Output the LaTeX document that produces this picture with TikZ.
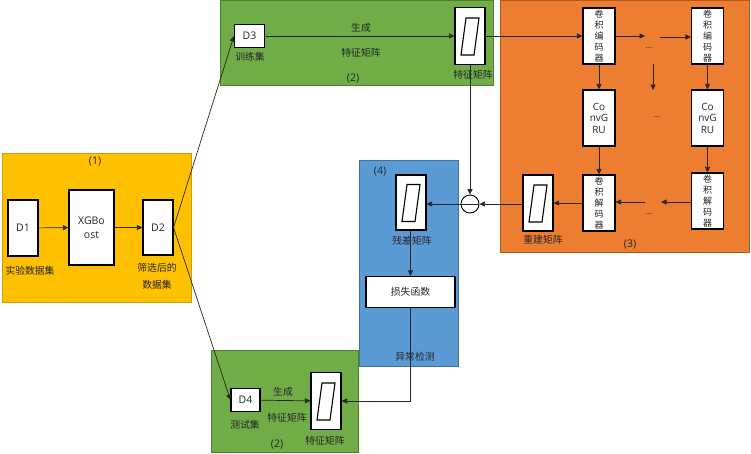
\documentclass[tikz,border=0pt]{standalone}
\usepackage{fontspec}
\setmainfont{Open Sans}
\newfontfamily\cjk{Noto Sans CJK SC}
\usetikzlibrary{arrows.meta,calc}
\definecolor{cyel}{HTML}{FFC000}
\definecolor{cyelb}{HTML}{C9A000}
\definecolor{cgrn}{HTML}{70AD47}
\definecolor{cgrnb}{HTML}{507E32}
\definecolor{corg}{HTML}{ED7D31}
\definecolor{corgb}{HTML}{AE5A21}
\definecolor{cblu}{HTML}{5B9BD5}
\definecolor{cblub}{HTML}{41719C}
\definecolor{cline}{HTML}{262626}
\begin{document}
\begin{tikzpicture}[x=1pt,y=-1pt,
  font=\fontsize{10.5}{12}\selectfont,
  region/.style={draw=#1b, fill=#1, line width=0.9pt},
  box/.style={draw=black, fill=white, line width=1.1pt, inner sep=0pt, align=center, text=black!85},
  mbox/.style={box, minimum width=30, minimum height=57},
  vbox/.style={box, minimum width=32, minimum height=56, font=\cjk\fontsize{9}{11.2}\selectfont},
  lbl/.style={inner sep=0pt, text=black!85, align=center},
  clbl/.style={lbl, font=\cjk\fontsize{9.8}{17}\selectfont},
  dots/.style={lbl, font=\fontsize{8.5}{9}\selectfont},
  arr/.style={draw=cline, line width=0.7pt, -{Triangle[length=5.5pt,width=5pt]}},
  ln/.style={draw=cline, line width=0.7pt},
  para/.style={draw=black, line width=1.1pt, fill=white}]
\useasboundingbox (0,0) rectangle (751,453);

% regions
\draw[region=cyel] (2,153) rectangle (191,302);
\draw[region=cgrn] (220,0.5) rectangle (493,85);
\draw[region=corg] (500,0.5) rectangle (749,252);
\draw[region=cblu] (359,160) rectangle (458,366);
\draw[region=cgrn] (211,350) rectangle (358,452);

% region (1)
\node[lbl] (t1) at (95,162) {(1)};
\node[box, minimum width=30, minimum height=56] (D1) at (23,228) {D1};
\node[box, minimum width=45, minimum height=75, font=\fontsize{10.5}{14}\selectfont] (xgb) at (91.5,227.5) {XGBo\\ost};
\node[box, minimum width=30, minimum height=55] (D2) at (158,227.5) {D2};
\node[clbl] (l1) at (30,271) {实验数据集};
\node[clbl] (l2) at (157,276) {筛选后的\\数据集};

% region (2) top
\node[box, minimum width=30, minimum height=23] (D3) at (249.5,36) {D3};
\node[clbl] (l3) at (250,57) {训练集};
\node[clbl] (l4) at (361,28) {生成};
\node[clbl] (l5) at (361,53) {特征矩阵};
\node[lbl] (t2a) at (353,79) {(2)};
\node[mbox] (fm1) at (470,36) {};
\node[clbl] (l6) at (473,75) {特征矩阵};

% region (3)
\node[vbox] (enc1) at (599,36) {卷\\积\\编\\码\\器};
\node[vbox] (enc2) at (707.5,36) {卷\\积\\编\\码\\器};
\node[box, minimum width=32, minimum height=56, font=\fontsize{10}{11.5}\selectfont] (gru1) at (599,118) {Co\\nvG\\RU};
\node[box, minimum width=32, minimum height=56, font=\fontsize{10}{11.5}\selectfont] (gru2) at (707.5,118) {Co\\nvG\\RU};
\node[vbox] (dec1) at (599,203) {卷\\积\\解\\码\\器};
\node[vbox] (dec2) at (707.5,201) {卷\\积\\解\\码\\器};
\node[mbox, minimum height=56] (rm) at (538,203) {};
\node[clbl] (l7) at (543,240) {重建矩阵};
\node[lbl] (t3) at (630,245) {(3)};
\node[dots] (d1) at (649,48) {...};
\node[dots] (d2) at (657,117) {...};
\node[dots] (d3) at (649,214) {...};
\coordinate (e1to) at (645,36);
\coordinate (e2from) at (660,37);
\coordinate (vdfrom) at (653,64);
\coordinate (vdto) at (653,90);
\coordinate (dd2to) at (661,202);
\coordinate (dd1from) at (645,202);

% region (4)
\node[lbl] (t4) at (380,172) {(4)};
\node[mbox, minimum height=55] (res) at (411,202.5) {};
\node[clbl] (l8) at (412,241) {残差矩阵};
\node[box, minimum width=89, minimum height=31, font=\cjk\fontsize{9.8}{11}\selectfont] (loss) at (410.5,292) {损失函数};
\node[clbl] (l9) at (415,357) {异常检测};
\node[draw=black, fill=white, line width=0.9pt, circle, minimum size=18, inner sep=0pt] (circ) at (470,204) {};

% region (2) bottom
\node[box, minimum width=29, minimum height=23] (D4) at (245.5,400) {D4};
\node[clbl] (l10) at (245,425) {测试集};
\node[clbl] (l11) at (283,392) {生成};
\node[clbl] (l12) at (287,418) {特征矩阵};
\node[lbl] (t2b) at (277,445) {(2)};
\node[mbox] (fm2) at (326,401) {};
\node[clbl] (l13) at (325,441) {特征矩阵};

% inner parallelograms
\foreach \n in {fm1,rm,res,fm2}{
  \draw[para] ($(\n.center)+(-4,-18)$) -- ($(\n.center)+(9,-18)$) -- ($(\n.center)+(4,19)$) -- ($(\n.center)+(-9,19)$) -- cycle;
}

% connectors
\draw[arr] (D1) -- (xgb);
\draw[arr] (xgb) -- (D2);
\draw[arr] (D2.east) -- (D3.west);
\draw[arr] (D2.east) -- (D4.west);
\draw[arr] (D3) -- (fm1);
\draw[arr] (fm1) -- (enc1);
\draw[arr] (enc1.east) -- (e1to);
\draw[arr] (e2from) -- (enc2.west |- e2from);
\draw[arr] (vdfrom) -- (vdto);
\draw[arr] (enc1) -- (gru1);
\draw[arr] (enc2) -- (gru2);
\draw[arr] (gru1) -- (dec1);
\draw[arr] (gru2) -- (dec2);
\draw[arr] (dec2.west |- dd2to) -- (dd2to);
\draw[arr] (dd1from) -- (dec1.east |- dd1from);
\draw[arr] (dec1.west |- rm.east) -- (rm.east);
\draw[arr] (rm.west |- circ.east) -- (circ.east);
\draw[arr] (fm1.south) -- (circ.north);
\draw[ln] (circ.west) -- (circ.east);
\draw[arr] (circ.west) -- (res.east |- circ.west);
\draw[arr] (res.south -| loss.north) -- (loss.north);
\draw[arr] (loss.south) -- (loss.south |- fm2.east) -- (fm2.east);
\draw[arr] (D4) -- (fm2);
\end{tikzpicture}
\end{document}
